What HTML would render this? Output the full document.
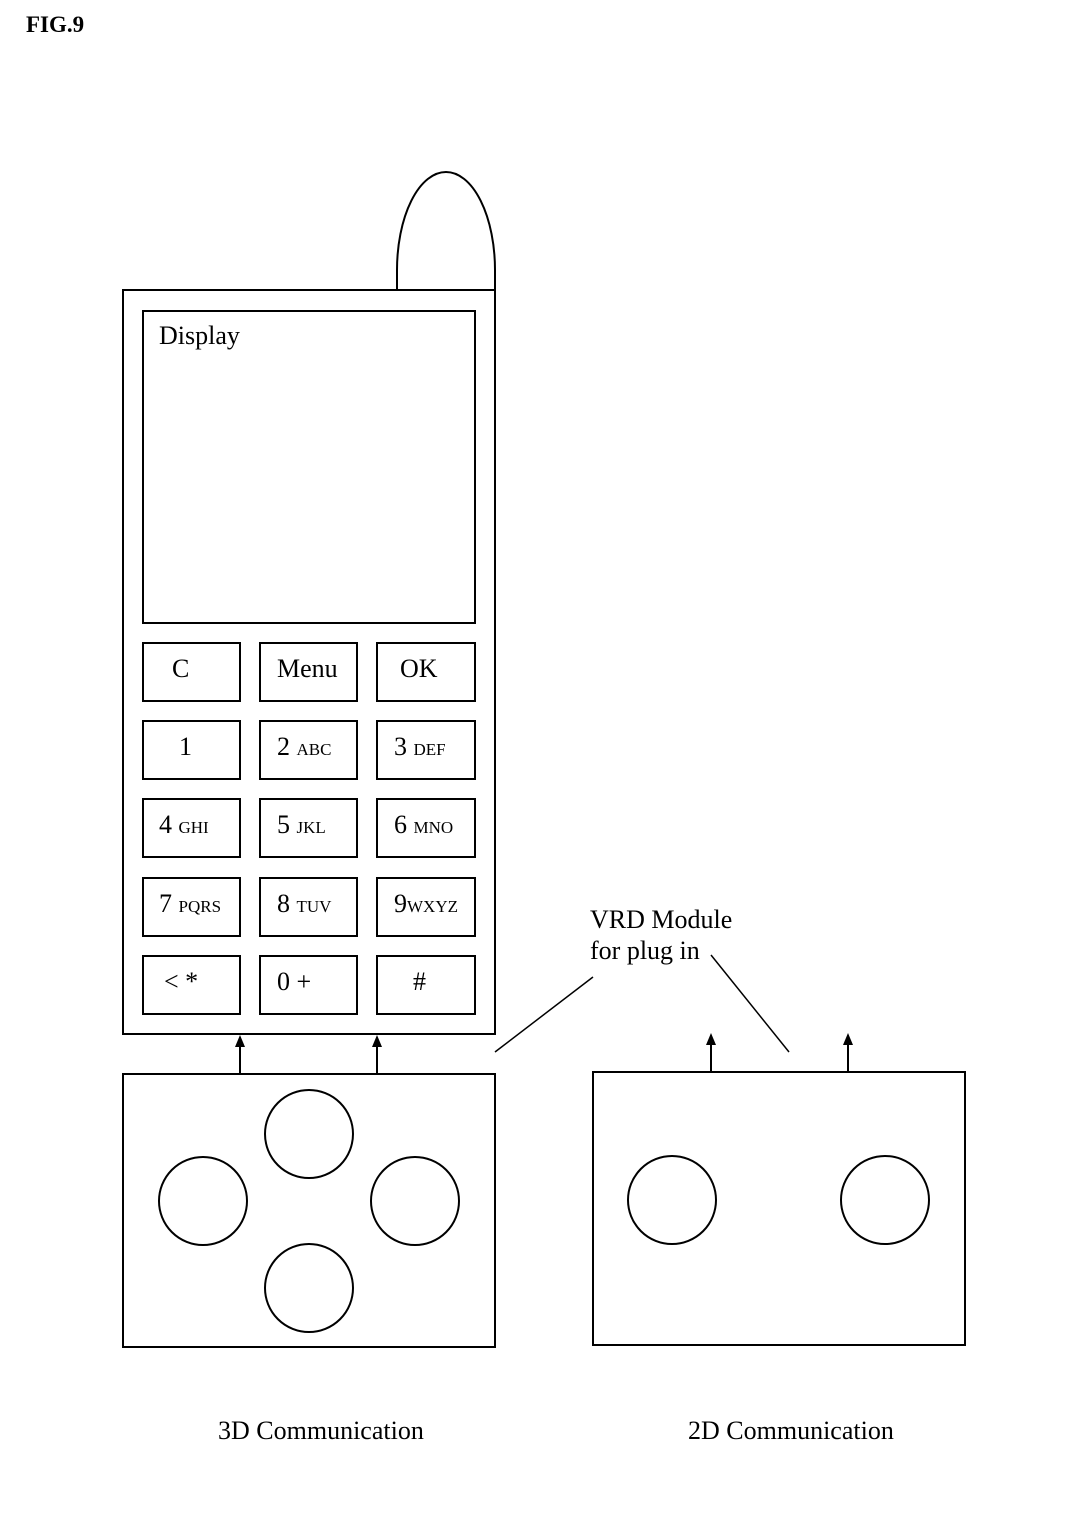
<!DOCTYPE html>
<html><head><style>
body{margin:0;background:#fff;}
svg{display:block;}
text{font-family:"Liberation Serif",serif;fill:#000;}
</style></head><body>
<svg width="1070" height="1516" viewBox="0 0 1070 1516" xmlns="http://www.w3.org/2000/svg">
<text x="26" y="32" font-size="23" font-weight="bold">FIG.9</text>
<g fill="none" stroke="#000" stroke-width="2">
<path d="M397,290 L397,270 A49,98 0 0 1 495,270 L495,290"/>
<rect x="123" y="290" width="372" height="744"/>
<rect x="143" y="311" width="332" height="312"/>
<rect x="143" y="643" width="97" height="58"/><rect x="260" y="643" width="97" height="58"/><rect x="377" y="643" width="98" height="58"/>
<rect x="143" y="721" width="97" height="58"/><rect x="260" y="721" width="97" height="58"/><rect x="377" y="721" width="98" height="58"/>
<rect x="143" y="799" width="97" height="58"/><rect x="260" y="799" width="97" height="58"/><rect x="377" y="799" width="98" height="58"/>
<rect x="143" y="878" width="97" height="58"/><rect x="260" y="878" width="97" height="58"/><rect x="377" y="878" width="98" height="58"/>
<rect x="143" y="956" width="97" height="58"/><rect x="260" y="956" width="97" height="58"/><rect x="377" y="956" width="98" height="58"/>
<rect x="123" y="1074" width="372" height="273"/>
<circle cx="309" cy="1134" r="44"/><circle cx="203" cy="1201" r="44"/><circle cx="415" cy="1201" r="44"/><circle cx="309" cy="1288" r="44"/>
<rect x="593" y="1072" width="372" height="273"/>
<circle cx="672" cy="1200" r="44"/><circle cx="885" cy="1200" r="44"/>
<line x1="240" y1="1074" x2="240" y2="1045"/>
<line x1="377" y1="1074" x2="377" y2="1045"/>
<line x1="711" y1="1072" x2="711" y2="1043"/>
<line x1="848" y1="1072" x2="848" y2="1043"/>
<line x1="495" y1="1052" x2="593" y2="977" stroke-width="1.5"/>
<line x1="711" y1="955" x2="789" y2="1052" stroke-width="1.5"/>
</g>
<g fill="#000">
<path d="M235,1047 L240,1035 L245,1047 Z"/>
<path d="M372,1047 L377,1035 L382,1047 Z"/>
<path d="M706,1045 L711,1033 L716,1045 Z"/>
<path d="M843,1045 L848,1033 L853,1045 Z"/>
</g>
<g font-size="26">
<text x="159" y="344">Display</text>
<text x="172" y="677">C</text><text x="277" y="677">Menu</text><text x="400" y="677">OK</text>
<text x="179" y="755">1</text><text x="277" y="755">2 <tspan font-size="17">ABC</tspan></text><text x="394" y="755">3 <tspan font-size="17">DEF</tspan></text>
<text x="159" y="833">4 <tspan font-size="17">GHI</tspan></text><text x="277" y="833">5 <tspan font-size="17">JKL</tspan></text><text x="394" y="833">6 <tspan font-size="17">MNO</tspan></text>
<text x="159" y="912">7 <tspan font-size="17">PQRS</tspan></text><text x="277" y="912">8 <tspan font-size="17">TUV</tspan></text><text x="394" y="912">9<tspan font-size="17">WXYZ</tspan></text>
<text x="164" y="990">&lt;  *</text><text x="277" y="990">0 +</text><text x="413" y="990">#</text>
<text x="590" y="928">VRD Module</text><text x="590" y="959">for plug in</text>
<text x="218" y="1439">3D Communication</text><text x="688" y="1439">2D Communication</text>
</g>
</svg>
</body></html>
